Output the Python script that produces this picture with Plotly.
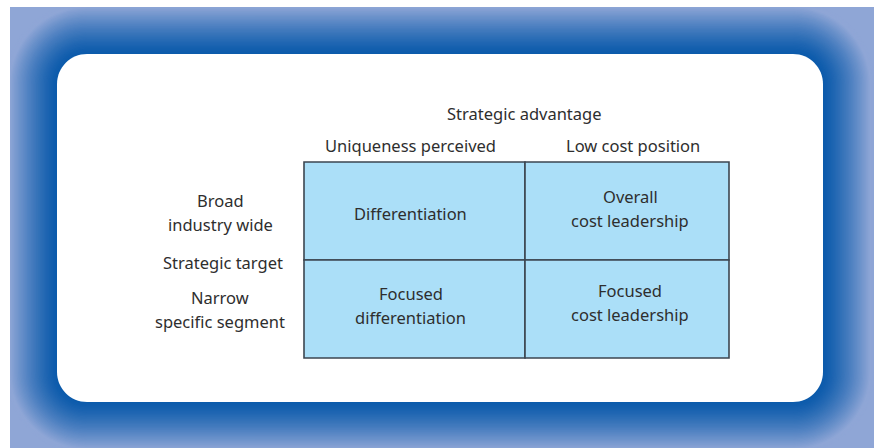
import plotly.graph_objects as go

# ---- data ----
top_title = "Strategic advantage"
col_labels = ["Uniqueness perceived", "Low cost position"]
side_title = "Strategic target"
row_labels = ["Broad<br>industry wide", "Narrow<br>specific segment"]
cell_labels = [["Differentiation", "Overall<br>cost leadership"],
               ["Focused<br>differentiation", "Focused<br>cost leadership"]]

# ---- layout constants (pixels) ----
W, H = 874, 448
FRAME = (10, 7, 874, 448)          # outer gradient frame
CARD = (57, 54, 823, 402)          # white rounded card
CARD_R = 30
COL_EDGES = [304, 525, 729]
ROW_EDGES = [162, 260, 358]
LINE_GAP = 24
FONT = dict(family="Noto Sans, Open Sans, sans-serif", size=16.5, color="#2e2e2e")
CELL_FILL = "#abdff8"
LINE = "#3c4650"


def rrect(x0, y0, x1, y1, r):
    k = 0.5523 * r
    return (f"M{x0 + r},{y0} L{x1 - r},{y0} C{x1 - r + k},{y0} {x1},{y0 + r - k} {x1},{y0 + r} "
            f"L{x1},{y1 - r} C{x1},{y1 - r + k} {x1 - r + k},{y1} {x1 - r},{y1} "
            f"L{x0 + r},{y1} C{x0 + r - k},{y1} {x0},{y1 - r + k} {x0},{y1 - r} "
            f"L{x0},{y0 + r} C{x0},{y0 + r - k} {x0 + r - k},{y0} {x0 + r},{y0} Z")


def mix(c1, c2, t):
    a = [int(c1[i:i + 2], 16) for i in (1, 3, 5)]
    b = [int(c2[i:i + 2], 16) for i in (1, 3, 5)]
    return "rgb(%d,%d,%d)" % tuple(round(a[i] + (b[i] - a[i]) * t) for i in range(3))


INNER, OUTER = "#0b5aab", "#8fa6d6"
shapes = []
shapes.append(dict(type="rect", xref="x", yref="y", x0=FRAME[0], y0=FRAME[1], x1=FRAME[2], y1=FRAME[3],
                   fillcolor=OUTER, line=dict(width=0), layer="below"))
steps = 40
maxd = 52
for s in range(steps, -1, -1):
    d = maxd * s / steps
    t = min(1.0, d / 48.0) ** 1.3
    shapes.append(dict(type="path", xref="x", yref="y",
                       path=rrect(CARD[0] - d, CARD[1] - d, CARD[2] + d, CARD[3] + d, CARD_R + d),
                       fillcolor=mix(INNER, OUTER, t), line=dict(width=0), layer="below"))
# mask outside the frame
shapes.append(dict(type="rect", xref="x", yref="y", x0=-5, y0=-5, x1=FRAME[0], y1=H + 5,
                   fillcolor="white", line=dict(width=0), layer="below"))
shapes.append(dict(type="rect", xref="x", yref="y", x0=-5, y0=-5, x1=W + 5, y1=FRAME[1],
                   fillcolor="white", line=dict(width=0), layer="below"))
# white card
shapes.append(dict(type="path", xref="x", yref="y", path=rrect(*CARD, CARD_R),
                   fillcolor="white", line=dict(width=0), layer="below"))

annotations = []


def add_text(x, y, text):
    lines = text.split("<br>")
    n = len(lines)
    for k, ln in enumerate(lines):
        annotations.append(dict(x=x, y=y + (k - (n - 1) / 2) * LINE_GAP, text=ln, showarrow=False,
                                font=FONT, xanchor="center", yanchor="middle"))


# grid cells
nr, nc = len(row_labels), len(col_labels)
cell_dx = [-4, 3]
cell_dy = [[2, -3], [-4, -7]]
for i in range(nr):
    for j in range(nc):
        x0, x1 = COL_EDGES[j], COL_EDGES[j + 1]
        y0, y1 = ROW_EDGES[i], ROW_EDGES[i + 1]
        shapes.append(dict(type="rect", xref="x", yref="y", x0=x0, y0=y0, x1=x1, y1=y1,
                           fillcolor=CELL_FILL, line=dict(color=LINE, width=1.6)))
        add_text((x0 + x1) / 2 + cell_dx[j], (y0 + y1) / 2 + cell_dy[i][j], cell_labels[i][j])

# column headers
col_dx = [-4, 6]
for j, lab in enumerate(col_labels):
    add_text((COL_EDGES[j] + COL_EDGES[j + 1]) / 2 + col_dx[j], 145, lab)
add_text((COL_EDGES[0] + COL_EDGES[-1]) / 2 + 8, 113, top_title)
# row headers
row_y = [212, 309]
for i, lab in enumerate(row_labels):
    add_text(220, row_y[i], lab)
add_text(223, 262, side_title)

fig = go.Figure()
fig.add_trace(go.Scatter(x=[0, W], y=[0, H], mode="markers", marker=dict(opacity=0), hoverinfo="skip",
                         showlegend=False))
fig.update_layout(
    width=W, height=H, margin=dict(l=0, r=0, t=0, b=0),
    paper_bgcolor="white", plot_bgcolor="white",
    xaxis=dict(range=[0, W], visible=False, fixedrange=True),
    yaxis=dict(range=[H, 0], visible=False, fixedrange=True),
    shapes=shapes, annotations=annotations, showlegend=False,
)
fig.write_html("out.html", config=dict(displayModeBar=False),
               post_script="document.body.style.margin='0';document.body.style.overflow='hidden';")
